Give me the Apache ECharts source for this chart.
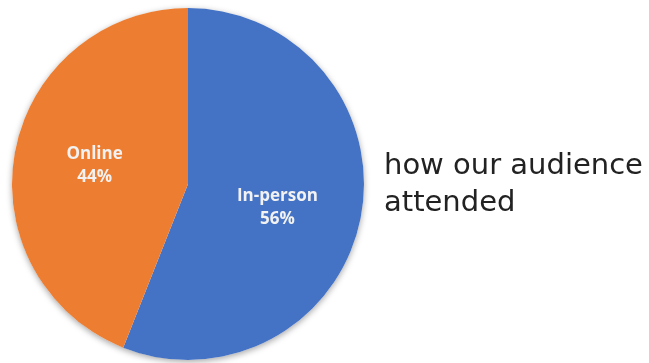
<!DOCTYPE html>
<html>
<head>
<meta charset="utf-8">
<script src="https://cdn.jsdelivr.net/npm/echarts@6/dist/echarts.min.js"></script>
<style>
  html, body { margin: 0; padding: 0; background: #ffffff; }
  #chart { width: 649px; height: 363px; }
</style>
</head>
<body>
<div id="chart"></div>
<script>
// Attendance split
const categories = ['In-person', 'Online'];
const shares = [56, 44];
const colors = ['#4472C4', '#ED7D31'];
const labelOffsets = [[0, 7], [-4, -1]];
const caption = 'how our audience\nattended';

const center = [188, 184];
const radius = 176;

const chart = echarts.init(document.getElementById('chart'), null, { renderer: 'canvas' });

chart.setOption({
  backgroundColor: '#ffffff',
  animation: false,
  title: {
    text: caption,
    left: 384,
    top: 148,
    padding: 0,
    textStyle: {
      fontFamily: 'DejaVu Sans',
      fontWeight: 'normal',
      fontSize: 29,
      lineHeight: 37,
      color: '#222222'
    }
  },
  series: [
    {
      // soft drop shadow under the whole disc
      type: 'pie',
      silent: true,
      center: center,
      radius: radius,
      z: 1,
      label: { show: false },
      labelLine: { show: false },
      itemStyle: {
        color: '#ffffff',
        shadowBlur: 6,
        shadowOffsetY: 2,
        shadowColor: 'rgba(0,0,0,0.35)'
      },
      data: [1]
    },
    {
      type: 'pie',
      center: center,
      radius: radius,
      startAngle: 90,
      clockwise: true,
      z: 2,
      itemStyle: { borderWidth: 0 },
      label: {
        show: true,
        position: 'inside',
        formatter: (p) => p.name + '\n' + p.value + '%',
        fontFamily: 'Open Sans',
        fontWeight: 'bold',
        fontSize: 17,
        lineHeight: 23,
        color: '#f2f2f2'
      },
      labelLine: { show: false },
      data: categories.map((name, i) => ({
        name: name,
        value: shares[i],
        itemStyle: { color: colors[i] },
        label: { offset: labelOffsets[i] }
      }))
    }
  ]
});
</script>
</body>
</html>
